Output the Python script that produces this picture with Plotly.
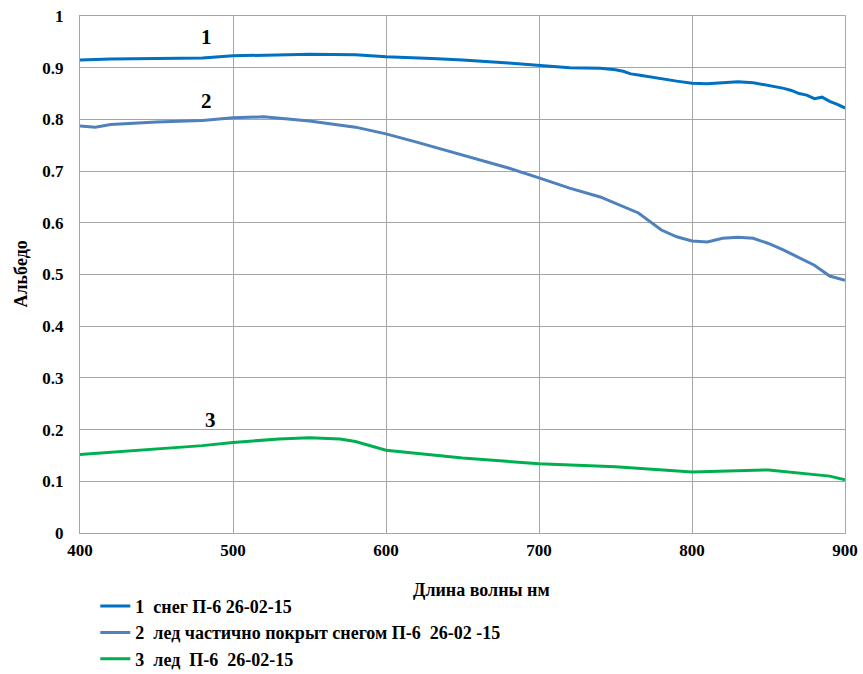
import plotly.graph_objects as go

# wavelength (nm) and albedo values
wl_snow = [400, 420, 450, 480, 500, 530, 550, 580, 600, 630, 650, 680, 700, 707, 720, 740,
           750, 755, 760, 765, 780, 790, 800, 810, 820, 830, 840, 850, 860, 865, 870, 875,
           880, 885, 890, 895, 900]
alb_snow = [0.915, 0.917, 0.918, 0.919, 0.923, 0.925, 0.926, 0.925, 0.921, 0.918, 0.915, 0.909,
            0.904, 0.902, 0.900, 0.899, 0.896, 0.893, 0.888, 0.886, 0.878, 0.874, 0.870, 0.869,
            0.871, 0.873, 0.871, 0.866, 0.860, 0.856, 0.850, 0.847, 0.840, 0.843, 0.835, 0.829,
            0.822]

wl_ice_snow = [400, 410, 420, 450, 480, 500, 520, 550, 580, 600, 620, 650, 680, 700, 720, 740,
               750, 760, 765, 780, 790, 800, 810, 820, 830, 840, 850, 860, 870, 880, 890, 895,
               900]
alb_ice_snow = [0.787, 0.785, 0.790, 0.795, 0.798, 0.803, 0.805, 0.797, 0.785, 0.772, 0.756,
                0.731, 0.706, 0.687, 0.667, 0.650, 0.638, 0.626, 0.619, 0.586, 0.573, 0.565,
                0.563, 0.570, 0.572, 0.570, 0.560, 0.547, 0.533, 0.518, 0.497, 0.493, 0.489]

wl_ice = [400, 420, 450, 480, 500, 530, 550, 570, 580, 590, 600, 650, 700, 750, 800, 850,
          875, 890, 900]
alb_ice = [0.152, 0.156, 0.162, 0.169, 0.175, 0.182, 0.184, 0.182, 0.177, 0.168, 0.160, 0.145,
           0.134, 0.128, 0.118, 0.122, 0.114, 0.110, 0.103]

series = [
    ("1  снег П-6 26-02-15", wl_snow, alb_snow, "#0070C0"),
    ("2  лед частично покрыт снегом П-6  26-02 -15", wl_ice_snow, alb_ice_snow, "#4F81BD"),
    ("3  лед  П-6  26-02-15", wl_ice, alb_ice, "#00B050"),
]

curve_labels = [("1", 483, 0.959), ("2", 483, 0.836), ("3", 485, 0.219)]

y_ticks = [0, 0.1, 0.2, 0.3, 0.4, 0.5, 0.6, 0.7, 0.8, 0.9, 1]
y_tick_text = ["0", "0.1", "0.2", "0.3", "0.4", "0.5", "0.6", "0.7", "0.8", "0.9", "1"]
x_ticks = [400, 500, 600, 700, 800, 900]

font_family = "Liberation Serif"
grid_color = "#A6A6A6"

fig = go.Figure()
for name, x, y, color in series:
    fig.add_trace(go.Scatter(x=x, y=y, mode="lines", name=f"<b>{name}</b>",
                             line={"color": color, "width": 3}))

for text, x, y in curve_labels:
    fig.add_annotation(x=x, y=y, text=f"<b>{text}</b>", showarrow=False,
                       font={"size": 21, "color": "black", "family": font_family})

# axis titles as annotations so they sit at fixed pixel offsets
fig.add_annotation(xref="paper", yref="paper", x=0.525, y=0, yshift=-57, yanchor="middle",
                   text="<b>Длина волны нм</b>", showarrow=False,
                   font={"size": 18, "color": "black", "family": font_family})
fig.add_annotation(xref="paper", yref="paper", x=0, y=0.5, xshift=-60, xanchor="center",
                   yanchor="middle", textangle=-90,
                   text="<b>Альбедо</b>", showarrow=False,
                   font={"size": 18, "color": "black", "family": font_family})

fig.update_layout(
    width=863, height=674,
    margin={"l": 80, "r": 18, "t": 16, "b": 141, "autoexpand": False},
    plot_bgcolor="white", paper_bgcolor="white",
    font={"family": font_family, "color": "black", "size": 16},
    legend={"orientation": "v", "x": 0.02, "y": -0.106, "xanchor": "left", "yanchor": "top",
            "font": {"size": 18, "family": font_family}, "tracegroupgap": 0,
            "itemwidth": 30},
    showlegend=True,
)
fig.update_xaxes(
    range=[400, 900], tickvals=x_ticks, automargin=False,
    showgrid=True, gridcolor=grid_color, gridwidth=1,
    showline=True, linecolor=grid_color, linewidth=1, mirror=True,
    zeroline=False, ticks="", ticklabelstandoff=2,
    tickfont={"size": 17, "family": font_family, "weight": "bold"},
)
fig.update_yaxes(
    range=[0, 1], tickvals=y_ticks, ticktext=y_tick_text, automargin=False,
    showgrid=True, gridcolor=grid_color, gridwidth=1,
    showline=True, linecolor=grid_color, linewidth=1, mirror=True,
    zeroline=False, ticks="", ticklabelstandoff=12,
    tickfont={"size": 17, "family": font_family, "weight": "bold"},
)

# drop the default page margin so the figure fills the window exactly
fig.write_html("out.html", config={"displayModeBar": False},
               post_script="document.body.style.margin = '0';")
